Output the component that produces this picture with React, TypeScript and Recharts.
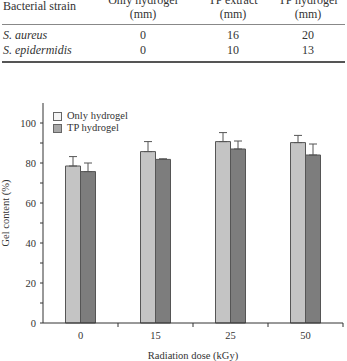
import React from "react";
import { BarChart, Bar, XAxis, YAxis, ErrorBar } from "recharts";

// table above the figure
const strains = ["S. aureus", "S. epidermidis"];
const tableHeads = ["Only hydrogel", "TP extract", "TP hydrogel"];
const zoneOnly = [0, 0];
const zoneExtract = [16, 10];
const zoneTp = [20, 13];

// gel content chart
const doses = ["0", "15", "25", "50"];
const onlyHydrogel = [78.5, 85.7, 90.7, 90.2];
const onlyHydrogelErr = [4.7, 5.0, 4.5, 3.6];
const tpHydrogel = [75.7, 81.8, 87.0, 84.0];
const tpHydrogelErr = [4.3, 0.3, 4.0, 5.5];
const yTicks = [0, 10, 20, 30, 40, 50, 60, 70, 80, 90, 100];

const chartData = doses.map((d, i) => ({
  dose: d,
  only: onlyHydrogel[i],
  onlyErr: [0, onlyHydrogelErr[i]],
  tp: tpHydrogel[i],
  tpErr: [0, tpHydrogelErr[i]],
}));

const FONT = '"Liberation Serif", "Times New Roman", serif';
const INK = "#333";
const colCenters = [143, 233, 308];

const YTick = ({ x, y, payload }: any) => {
  if (payload.value % 20 !== 0) return null;
  return (
    <text x={x - 2} y={y} dy={3.5} textAnchor="end" fontSize={10.5} fill={INK} fontFamily={FONT}>
      {payload.value}
    </text>
  );
};

// label at band centre, small tick mark at the band edge
const XTick = ({ x, y, payload }: any) => (
  <g>
    <line x1={x + 37.5} x2={x + 37.5} y1={y - 8} y2={y - 4} stroke={INK} />
    <text x={x} y={y + 8} textAnchor="middle" fontSize={10.5} fill={INK} fontFamily={FONT}>
      {payload.value}
    </text>
  </g>
);

const cell: React.CSSProperties = {
  position: "absolute",
  textAlign: "center",
  fontSize: 12,
  lineHeight: "14px",
};

export default function App() {
  return (
    <div
      style={{
        position: "fixed",
        left: 0,
        top: 0,
        width: 347,
        height: 361,
        overflow: "hidden",
        background: "#fff",
        fontFamily: FONT,
        color: INK,
      }}
    >
      {/* table, top cut off like the source page */}
      <div style={{ ...cell, textAlign: "left", left: 3, top: -1 }}>Bacterial strain</div>
      {tableHeads.map((h, i) => (
        <div key={h} style={{ ...cell, left: colCenters[i] - 50, width: 100, top: -7 }}>
          {h}
          <br />
          (mm)
        </div>
      ))}
      <div style={{ position: "absolute", left: 2, width: 343, top: 24, height: 1, background: "#888" }} />
      {strains.map((s, r) => (
        <React.Fragment key={s}>
          <div style={{ ...cell, textAlign: "left", left: 3, top: 28 + r * 15, fontStyle: "italic" }}>{s}</div>
          {[zoneOnly[r], zoneExtract[r], zoneTp[r]].map((v, i) => (
            <div key={i} style={{ ...cell, left: colCenters[i] - 20, width: 40, top: 28 + r * 15 }}>
              {v}
            </div>
          ))}
        </React.Fragment>
      ))}
      <div style={{ position: "absolute", left: 2, width: 343, top: 61, height: 2, background: "#555" }} />

      {/* chart */}
      <div style={{ position: "absolute", left: 0, top: 80 }}>
        <BarChart
          width={347}
          height={281}
          data={chartData}
          margin={{ top: 23, right: 4, left: 0, bottom: 0 }}
          barCategoryGap="30%"
          barGap={0}
        >
          <XAxis
            dataKey="dose"
            height={38}
            tickLine={false}
            axisLine={{ stroke: INK }}
            tick={<XTick />}
            label={{
              value: "Radiation dose (kGy)",
              position: "insideBottom",
              offset: 2,
              fontSize: 10.5,
              fill: INK,
              fontFamily: FONT,
            }}
          />
          <XAxis xAxisId="top" dataKey="dose" orientation="top" height={0} tick={false} tickLine={false} axisLine={{ stroke: INK }} />
          <YAxis
            width={43}
            domain={[0, 110]}
            ticks={yTicks}
            interval={0}
            tickSize={3}
            tickLine={{ stroke: INK }}
            axisLine={{ stroke: INK }}
            tick={<YTick />}
            label={{
              value: "Gel content (%)",
              angle: -90,
              position: "insideLeft",
              offset: 5,
              fontSize: 10.5,
              fill: INK,
              fontFamily: FONT,
              style: { textAnchor: "middle" },
            }}
          />
          <YAxis yAxisId="right" orientation="right" width={0} domain={[0, 110]} tick={false} tickLine={false} axisLine={{ stroke: INK }} />
          <Bar dataKey="only" fill="#c4c4c4" stroke="#555" strokeWidth={1} isAnimationActive={false}>
            <ErrorBar dataKey="onlyErr" width={4} stroke="#555" strokeWidth={1} isAnimationActive={false} />
          </Bar>
          <Bar dataKey="tp" fill="#7d7d7d" stroke="#555" strokeWidth={1} isAnimationActive={false}>
            <ErrorBar dataKey="tpErr" width={4} stroke="#555" strokeWidth={1} isAnimationActive={false} />
          </Bar>
        </BarChart>
      </div>

      {/* legend */}
      <div style={{ position: "absolute", left: 53, top: 110, fontSize: 10.5, lineHeight: "12px" }}>
        <div style={{ display: "flex", alignItems: "center" }}>
          <span style={{ width: 7, height: 7, border: "1px solid #666", background: "#f4f4f4", marginRight: 5 }} />
          Only hydrogel
        </div>
        <div style={{ display: "flex", alignItems: "center" }}>
          <span style={{ width: 7, height: 7, border: "1px solid #666", background: "#a8a8a8", marginRight: 5 }} />
          TP hydrogel
        </div>
      </div>
    </div>
  );
}
